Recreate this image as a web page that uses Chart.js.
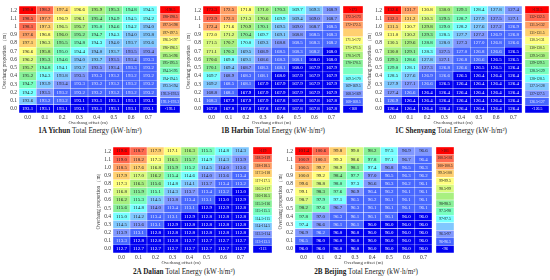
<!DOCTYPE html>
<html>
<head>
<meta charset="utf-8">
<title>Total Energy heat maps</title>
<script src="https://cdn.jsdelivr.net/npm/chart.js@4"></script>
<style>
  html, body { margin: 0; padding: 0; background: #fff; }
  #page { position: relative; width: 550px; height: 280px; overflow: hidden; }
  canvas { position: absolute; }
  .panelTitle { position: absolute; white-space: nowrap; transform: translateX(-50%);
    font: 7.2px "Liberation Serif", serif; color: #222; }
</style>
</head>
<body>
<div id="page"></div>
<script>
"use strict";

// DATA -----------------------
const offsets = ["0.0", "0.1", "0.2", "0.3", "0.4", "0.5", "0.6", "0.7"];
const proportionsShort = ["1.2", "1.1", "1", "0.9", "0.8", "0.7", "0.6", "0.5", "0.4", "0.3", "0.2", "0.1", "0.0"];
const proportionsLong = ["1.2", "1.1", "1.0", "0.9", "0.8", "0.7", "0.6", "0.5", "0.4", "0.3", "0.2", "0.1", "0.0"];

const yichunValues = [
  [199.0, 198.2, 197.4, 196.6, 195.9, 195.3, 194.8, 194.5],
  [198.5, 197.7, 196.9, 196.1, 195.4, 194.9, 194.5, 194.2],
  [198.1, 197.3, 196.5, 195.7, 195.0, 194.6, 194.2, 194.0],
  [197.6, 196.8, 196.0, 195.2, 194.7, 194.3, 194.0, 193.8],
  [197.1, 196.3, 195.5, 194.8, 194.3, 194.0, 193.7, 193.6],
  [196.6, 195.8, 195.0, 194.4, 194.0, 193.7, 193.5, 193.4],
  [196.2, 195.3, 194.6, 194.0, 193.7, 193.5, 193.4, 193.3],
  [195.7, 194.8, 194.1, 193.7, 193.5, 193.4, 193.3, 193.2],
  [195.2, 194.3, 193.8, 193.5, 193.3, 193.2, 193.2, 193.2],
  [194.7, 193.9, 193.4, 193.3, 193.2, 193.2, 193.2, 193.2],
  [194.2, 193.5, 193.2, 193.2, 193.2, 193.2, 193.2, 193.2],
  [193.6, 193.2, 193.2, 193.1, 193.1, 193.1, 193.1, 193.1],
  [193.1, 193.1, 193.1, 193.1, 193.1, 193.1, 193.1, 193.1]
];
const harbinValues = [
  [173.3, 172.5, 171.8, 171.0, 170.3, 169.7, 169.3, 168.9],
  [172.9, 172.1, 171.3, 170.6, 169.9, 169.4, 169.0, 168.7],
  [172.4, 171.6, 170.9, 170.1, 169.5, 169.0, 168.7, 168.5],
  [172.0, 171.2, 170.4, 169.7, 169.1, 168.8, 168.5, 168.3],
  [171.5, 170.7, 170.0, 169.3, 168.8, 168.5, 168.3, 168.2],
  [171.1, 170.3, 169.5, 168.9, 168.5, 168.3, 168.2, 168.0],
  [170.6, 169.8, 169.1, 168.6, 168.3, 168.1, 168.0, 168.0],
  [170.1, 169.4, 168.7, 168.3, 168.1, 168.0, 167.9, 167.9],
  [169.7, 168.9, 168.3, 168.1, 168.0, 167.9, 167.9, 167.9],
  [169.2, 168.5, 168.1, 167.9, 167.9, 167.9, 167.9, 167.9],
  [168.8, 168.1, 167.9, 167.9, 167.9, 167.9, 167.9, 167.9],
  [168.3, 167.9, 167.9, 167.9, 167.8, 167.8, 167.8, 167.8],
  [167.8, 167.8, 167.8, 167.8, 167.8, 167.8, 167.8, 167.8]
];
const shenyangValues = [
  [132.6, 131.7, 130.8, 130.0, 129.1, 128.4, 127.8, 127.4],
  [132.1, 131.2, 130.3, 129.5, 128.7, 127.9, 127.5, 127.1],
  [131.5, 130.7, 129.8, 129.0, 128.2, 127.6, 127.2, 126.9],
  [131.0, 130.2, 129.3, 128.5, 127.7, 127.2, 126.9, 126.8],
  [130.5, 129.6, 128.8, 128.0, 127.3, 127.0, 126.8, 126.6],
  [130.0, 129.1, 128.3, 127.5, 127.0, 126.8, 126.6, 126.5],
  [129.5, 128.6, 127.8, 127.1, 126.8, 126.6, 126.5, 126.5],
  [129.0, 128.1, 127.3, 126.8, 126.6, 126.5, 126.5, 126.4],
  [128.5, 127.6, 126.9, 126.6, 126.5, 126.4, 126.4, 126.4],
  [127.9, 127.1, 126.6, 126.5, 126.4, 126.4, 126.4, 126.4],
  [127.4, 126.6, 126.4, 126.4, 126.4, 126.4, 126.4, 126.4],
  [126.9, 126.4, 126.4, 126.4, 126.4, 126.4, 126.4, 126.4],
  [126.4, 126.4, 126.4, 126.4, 126.4, 126.4, 126.4, 126.4]
];
const dalianValues = [
  [119.6, 118.7, 117.9, 117.1, 116.3, 115.5, 114.8, 114.3],
  [119.0, 118.2, 117.3, 116.5, 115.7, 114.9, 114.3, 113.9],
  [118.5, 117.6, 116.8, 115.9, 115.2, 114.5, 114.0, 113.6],
  [117.9, 117.0, 116.2, 115.4, 114.6, 114.0, 113.6, 113.4],
  [117.3, 116.5, 115.6, 114.8, 114.1, 113.7, 113.4, 113.2],
  [116.8, 115.9, 115.1, 114.3, 113.7, 113.4, 113.2, 113.0],
  [116.2, 115.3, 114.5, 113.8, 113.4, 113.1, 113.0, 112.9],
  [115.6, 114.8, 114.0, 113.4, 113.1, 112.9, 112.9, 112.8],
  [115.0, 114.2, 113.4, 113.1, 112.9, 112.8, 112.8, 112.8],
  [114.5, 113.6, 113.1, 112.9, 112.8, 112.8, 112.8, 112.8],
  [113.9, 113.1, 112.8, 112.8, 112.8, 112.8, 112.8, 112.8],
  [113.3, 112.8, 112.8, 112.8, 112.7, 112.7, 112.7, 112.7],
  [112.7, 112.7, 112.7, 112.7, 112.7, 112.7, 112.7, 112.7]
];
const beijingValues = [
  [101.4, 100.6, 99.8, 99.0, 98.2, 97.5, 96.9, 96.6],
  [100.9, 100.1, 99.3, 98.6, 97.8, 97.1, 96.7, 96.4],
  [100.5, 99.7, 98.9, 98.1, 97.4, 96.8, 96.5, 96.3],
  [100.0, 99.2, 98.4, 97.7, 97.0, 96.5, 96.3, 96.2],
  [99.6, 98.8, 98.0, 97.3, 96.6, 96.3, 96.2, 96.1],
  [99.1, 98.3, 97.6, 96.9, 96.4, 96.2, 96.1, 96.1],
  [98.7, 97.9, 97.1, 96.5, 96.2, 96.1, 96.1, 96.1],
  [98.2, 97.6, 96.7, 96.3, 96.1, 96.1, 96.1, 96.1],
  [97.8, 97.0, 96.3, 96.1, 96.1, 96.1, 96.0, 96.0],
  [97.4, 96.6, 96.1, 96.1, 96.0, 96.0, 96.0, 96.0],
  [96.9, 96.2, 96.0, 96.0, 96.0, 96.0, 96.0, 96.0],
  [96.5, 96.0, 96.0, 96.0, 96.0, 96.0, 96.0, 96.0],
  [96.0, 96.0, 96.0, 96.0, 96.0, 96.0, 96.0, 96.0]
];

// Legend bins, top to bottom. An empty label is a bin the original leaves blank
const yichunBins = [">198.5", "198-198.5", "197.5-198", "197-197.5", "196.5-197", "196-196.5", "195.5-196", "195-195.5", "194.5-195", "194-194.5", "193.5-194", "193.3-193.5", "193.1-193.3", "<193.1"];
const harbinBins = [">173", "172.5-173", "172-172.5", "", "171.5-172", "171-171.5", "170.5-171", "170-170.5", "", "169.5-170", "169-169.5", "168.5-169", "168-168.5", "<168"];
const shenyangBins = [">132.5", "132-132.5", "131.5-132", "131-131.5", "130.5-131", "130-130.5", "129.5-130", "129-129.5", "128.5-129", "128-128.5", "127.5-128", "127-127.5", "126.5-127", "<126.5"];
const dalianBins = [">119", "118.5-119", "118-118.5", "117.5-118", "117-117.5", "116.5-117", "116-116.5", "115.5-116", "115-115.5", "114.5-115", "114-114.5", "113.5-114", "113-113.5", "<113"];
const beijingBins = [">101", "100.5-101", "100-100.5", "99.5-100", "99-99.5", "98.5-99", "", "98-98.5", "97.5-98", "97-97.5", "", "96.5-97", "96-96.5", "<96"];

const binColors = [
  "#ff0000", "#ff6a50", "#ffa066", "#ffd070", "#ffff80", "#d8fa80", "#a8f080",
  "#88f098", "#78ffc0", "#78ffff", "#80c8ff", "#8098ff", "#4868ff", "#0000f0"
];

const FONT = '"Liberation Serif", serif';
const LEFT_AXIS = 17;
const BOTTOM_AXIS = 13;

function binFloor(label) {
  if (label === "") return null;
  if (label[0] === ">") return parseFloat(label.slice(1));
  if (label[0] === "<") return -Infinity;
  return parseFloat(label.split("-")[0]);
}

function binIndex(value, bins) {
  for (let i = 0; i < bins.length; i++) {
    const floor = binFloor(bins[i]);
    if (floor !== null && value > floor) return i;
  }
  return bins.length - 1;
}

function textColor(index) {
  if (index === 13) return "#fff";
  return index === 12 ? "#e4e8ff" : "#222";
}

// Writes each cell's text on top of its bar
const cellTextPlugin = {
  id: "cellText",
  afterDatasetsDraw(chart, args, opts) {
    const { ctx } = chart;
    ctx.save();
    ctx.textAlign = "center";
    ctx.textBaseline = "middle";
    ctx.font = `${opts.size}px ${FONT}`;
    chart.data.datasets.forEach((dataset, d) => {
      chart.getDatasetMeta(d).data.forEach((bar, i) => {
        const text = dataset.texts[i];
        if (!text) return;
        const p = bar.getCenterPoint();
        ctx.fillStyle = textColor(dataset.binIdx[i]);
        ctx.fillText(text, p.x, p.y);
      });
    });
    ctx.restore();
  }
};

function rowScale(count, show, labels) {
  const rows = [];
  for (let r = 0; r < count; r++) rows.push(r);
  return {
    type: "linear",
    reverse: true,
    min: -0.5,
    max: count - 0.5,
    display: show,
    grid: { display: false, drawTicks: false },
    border: { display: false },
    afterBuildTicks(scale) { scale.ticks = rows.map(r => ({ value: r })); },
    afterFit(scale) {
      if (show) scale.width = LEFT_AXIS;
      scale.paddingTop = 0;
      scale.paddingBottom = 0;
    },
    ticks: {
      autoSkip: false,
      padding: 2,
      color: "#333",
      font: { family: FONT, size: 5.5 },
      callback: v => (labels ? labels[v] : "")
    },
    title: {
      display: show,
      text: "Overhang proportion （m）",
      color: "#333",
      padding: { top: 0, bottom: 1 },
      font: { family: FONT, size: 5.2 }
    }
  };
}

function makeChart(parent, left, top, width, height, config) {
  const canvas = document.createElement("canvas");
  canvas.width = width;
  canvas.height = height;
  canvas.style.left = left + "px";
  canvas.style.top = top + "px";
  canvas.style.width = width + "px";
  canvas.style.height = height + "px";
  parent.appendChild(canvas);
  return new Chart(canvas.getContext("2d"), config);
}

function cellDatasets(rows) {
  return rows.map(row => ({
    data: row.spans,
    backgroundColor: row.bins.map(b => binColors[b]),
    binIdx: row.bins,
    texts: row.texts,
    borderColor: "rgba(255,255,255,0.35)",
    borderWidth: 0.5,
    borderSkipped: false,
    barPercentage: 1,
    categoryPercentage: 1,
    grouped: false
  }));
}

function heatPanel(parent, values, bins, rowLabels, box) {
  const rows = values.map((row, r) => ({
    spans: row.map(() => [r - 0.5, r + 0.5]),
    bins: row.map(v => binIndex(v, bins)),
    texts: row.map(v => v.toFixed(1))
  }));
  makeChart(parent, box.x - LEFT_AXIS, box.y, box.w + LEFT_AXIS, box.h + BOTTOM_AXIS, {
    type: "bar",
    data: { labels: offsets, datasets: cellDatasets(rows) },
    plugins: [cellTextPlugin],
    options: {
      responsive: false,
      animation: false,
      devicePixelRatio: 1,
      layout: { padding: 0 },
      plugins: { legend: { display: false }, tooltip: { enabled: false }, cellText: { size: 4.9 } },
      scales: {
        x: {
          grid: { display: false, drawTicks: false },
          border: { display: false },
          afterFit(scale) {
            scale.height = BOTTOM_AXIS;
            scale.paddingLeft = 0;
            scale.paddingRight = 0;
          },
          ticks: { padding: 1, color: "#333", maxRotation: 0, font: { family: FONT, size: 5.5 } },
          title: {
            display: true,
            text: "Overhang offset (m)",
            color: "#333",
            padding: 0,
            font: { family: FONT, size: 4.8 }
          }
        },
        y: rowScale(values.length, true, rowLabels)
      }
    }
  });
}

function legendPanel(parent, bins, box) {
  const rows = bins.map((label, r) => ({ spans: [[r - 0.5, r + 0.5]], bins: [r], texts: [label] }));
  makeChart(parent, box.x, box.y, box.w, box.h, {
    type: "bar",
    data: { labels: [""], datasets: cellDatasets(rows) },
    plugins: [cellTextPlugin],
    options: {
      responsive: false,
      animation: false,
      devicePixelRatio: 1,
      layout: { padding: 0 },
      plugins: { legend: { display: false }, tooltip: { enabled: false }, cellText: { size: 3.8 } },
      scales: {
        x: { display: false },
        y: rowScale(bins.length, false)
      }
    }
  });
}

function panelTitle(parent, code, city, cx, top) {
  const div = document.createElement("div");
  div.className = "panelTitle";
  div.style.left = cx + "px";
  div.style.top = top + "px";
  const b = document.createElement("b");
  b.textContent = `${code} ${city}`;
  div.appendChild(b);
  div.appendChild(document.createTextNode(" Total Energy (kW·h/m²)"));
  parent.appendChild(div);
}

const page = document.getElementById("page");

heatPanel(page, yichunValues, yichunBins, proportionsShort, { x: 19, y: 6, w: 138, h: 107 });
legendPanel(page, yichunBins, { x: 160, y: 6, w: 20, h: 107 });
panelTitle(page, "1A", "Yichun", 90, 127);

heatPanel(page, harbinValues, harbinBins, proportionsShort, { x: 203, y: 6, w: 137, h: 107 });
legendPanel(page, harbinBins, { x: 343, y: 6, w: 20, h: 107 });
panelTitle(page, "1B", "Harbin", 273, 127);

heatPanel(page, shenyangValues, shenyangBins, proportionsLong, { x: 384, y: 6, w: 138, h: 107 });
legendPanel(page, shenyangBins, { x: 525, y: 6, w: 24, h: 107 });
panelTitle(page, "1C", "Shenyang", 451, 127);

heatPanel(page, dalianValues, dalianBins, proportionsLong, { x: 113, y: 147, w: 136, h: 106 });
legendPanel(page, dalianBins, { x: 253, y: 147, w: 19, h: 106 });
panelTitle(page, "2A", "Dalian", 184, 268);

heatPanel(page, beijingValues, beijingBins, proportionsShort, { x: 295, y: 147, w: 137, h: 106 });
legendPanel(page, beijingBins, { x: 436, y: 147, w: 18, h: 106 });
panelTitle(page, "2B", "Beijing", 366, 268);
</script>
</body>
</html>
